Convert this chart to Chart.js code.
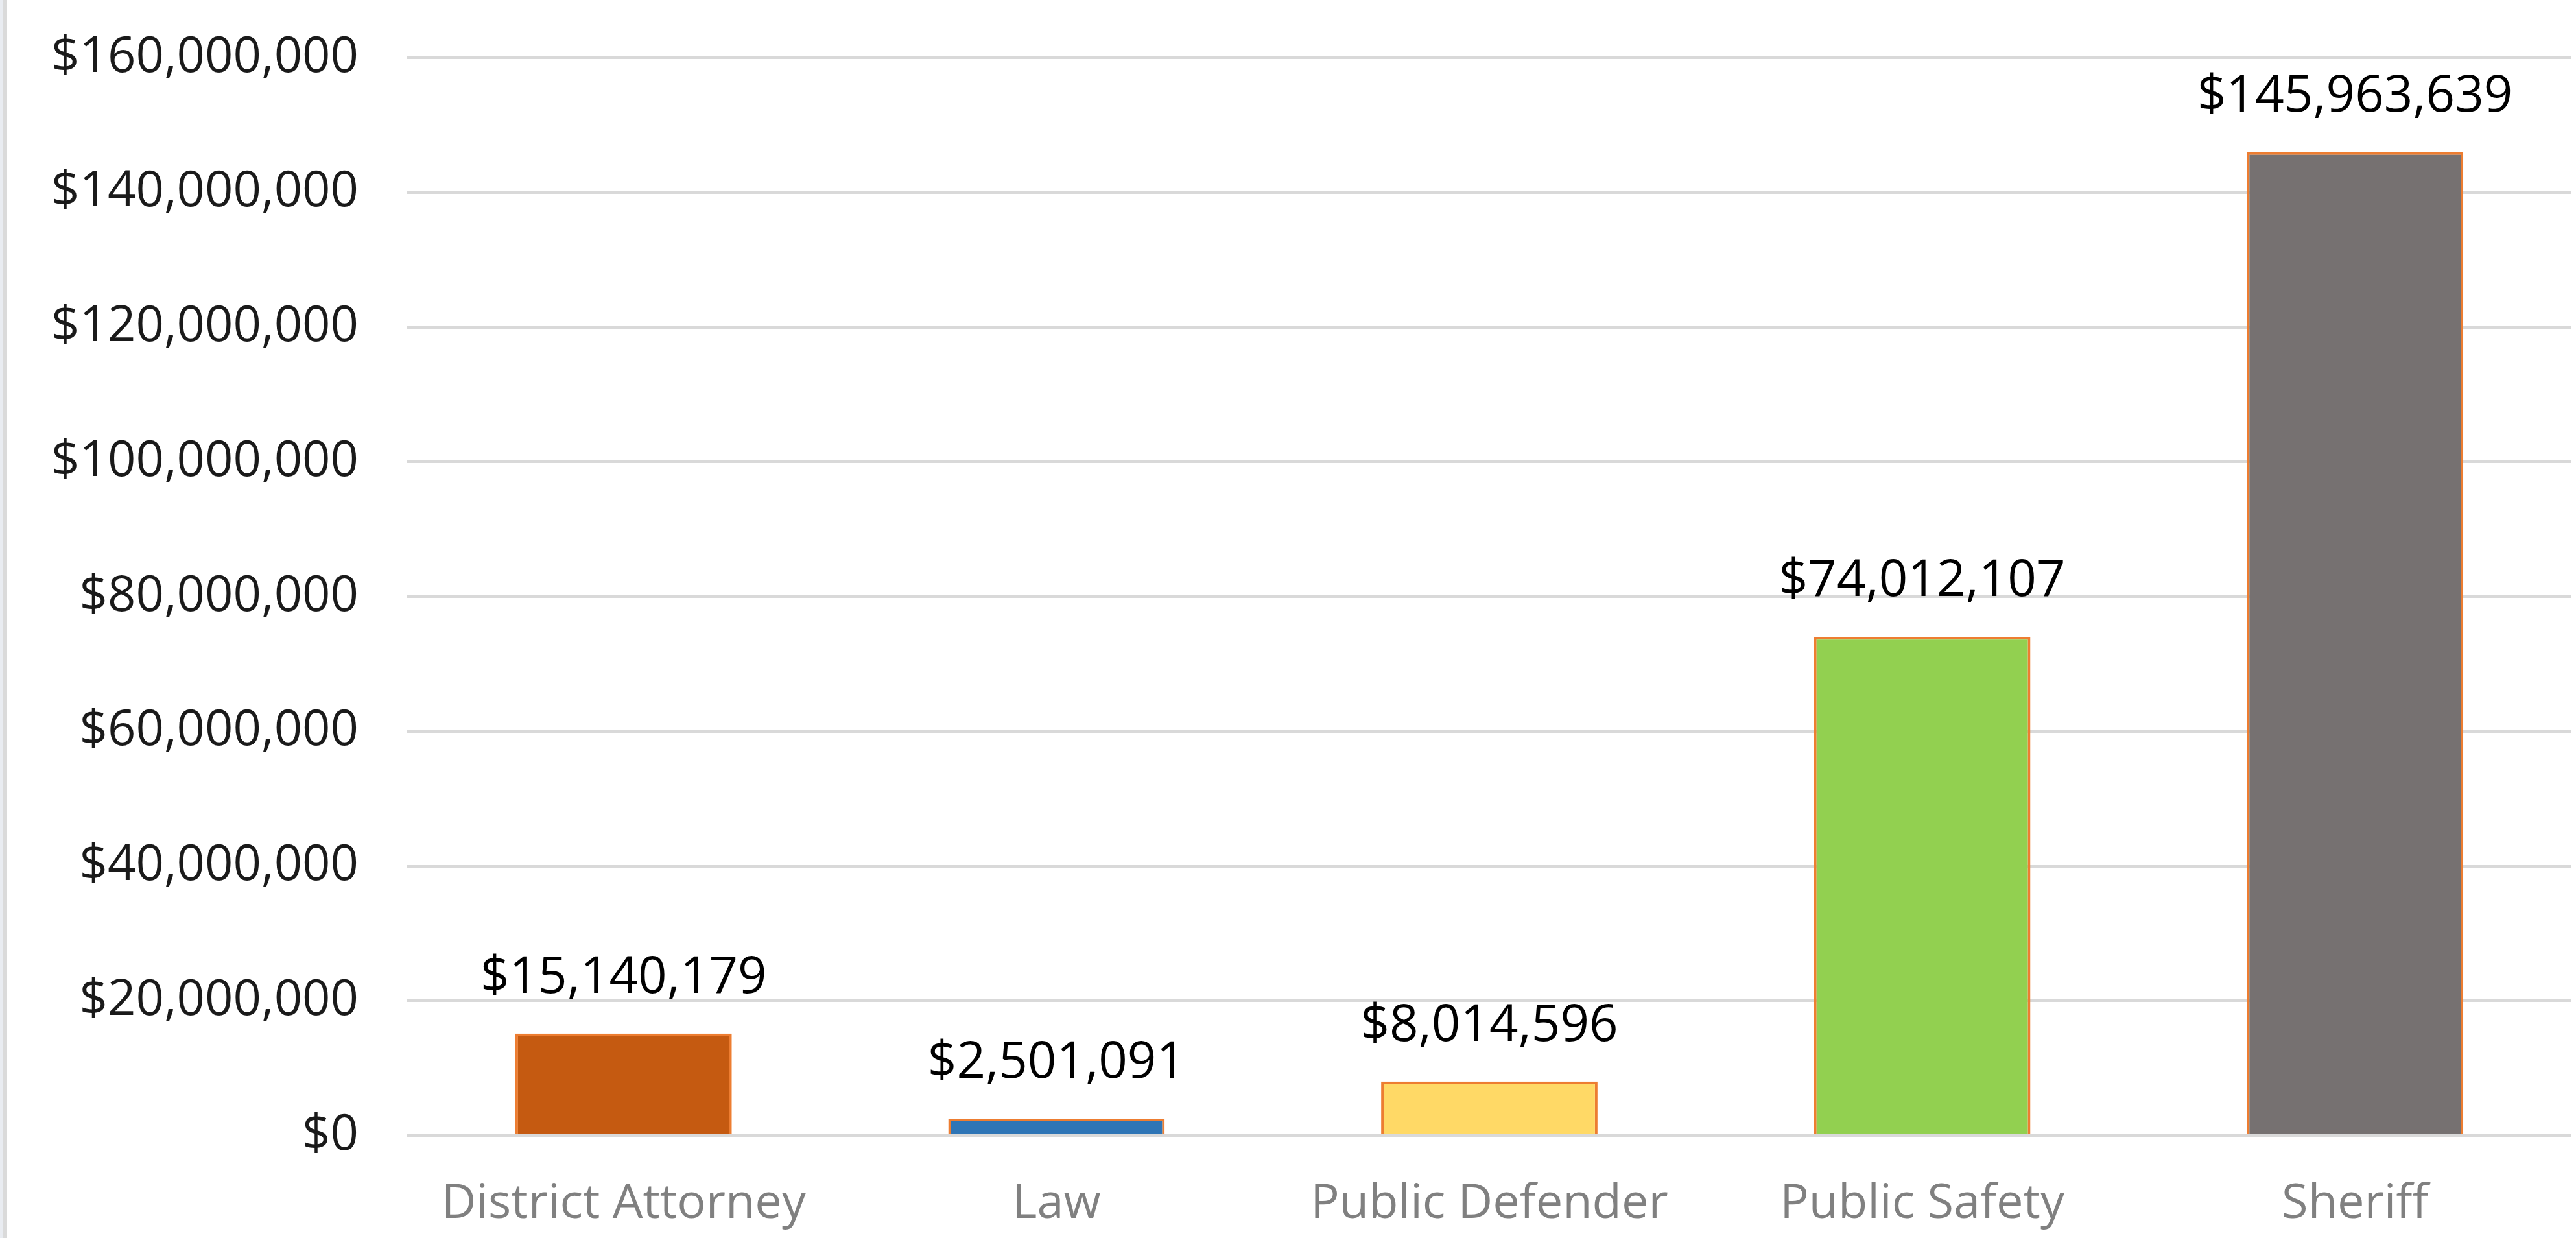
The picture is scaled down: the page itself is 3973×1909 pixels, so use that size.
<!DOCTYPE html>
<html>
<head>
<meta charset="utf-8">
<script src="https://cdn.jsdelivr.net/npm/chart.js@4.4.1/dist/chart.umd.min.js"></script>
<style>
  html, body { margin: 0; padding: 0; background: #ffffff; overflow: hidden; }
  .edge { border-left: 4px solid #e9ecf1; }
  .wrap { border-left: 7px solid #dadada; width: 3962px; height: 1909px; }
</style>
</head>
<body>
<div class="edge"><div class="wrap"><canvas id="dept-budget" width="3962" height="1909"></canvas></div></div>

<script>

/* BAR: BUDGET BY DEPARTMENT */

const labelarray_dept = ['District Attorney', 'Law', 'Public Defender', 'Public Safety', 'Sheriff'];
const datapointarray_budget = [15140179, 2501091, 8014596, 74012107, 145963639];
const colorarray_dept = ['#C55A11', '#2E75B6', '#FFD966', '#92D050', '#767171'];

const money = function(v) {
    return '$' + Number(v).toLocaleString('en-US');
};

// value labels above each bar
const barValueLabels = {
    id: 'barValueLabels',
    afterDatasetsDraw(chart) {
        const c = chart.ctx;
        const meta = chart.getDatasetMeta(0);
        c.save();
        c.font = '78px "Open Sans"';
        c.fillStyle = '#000000';
        c.textAlign = 'center';
        c.textBaseline = 'alphabetic';
        meta.data.forEach(function(bar, i) {
            c.fillText(money(datapointarray_budget[i]), bar.x, bar.y - 63);
        });
        c.restore();
    }
};

const ctx_budget = document.getElementById('dept-budget').getContext('2d');
const chart_budget = new Chart(ctx_budget, {
    type: 'bar',
    data: {
        labels: labelarray_dept,
        datasets: [{
            label: 'Budget',
            data: datapointarray_budget,
            backgroundColor: colorarray_dept,
            borderColor: '#ED7D31',
            borderWidth: 4,
            barPercentage: 0.5,
            categoryPercentage: 1.0
        }]
    },
    plugins: [barValueLabels],
    options: {
        responsive: false,
        animation: false,
        layout: {
            padding: { left: 0, right: 7, top: 89, bottom: 0 }
        },
        plugins: {
            legend: { display: false },
            tooltip: { enabled: false }
        },
        scales: {
            x: {
                grid: { display: false, drawTicks: false },
                border: { display: false },
                afterFit: function(scale) { scale.height = 158; },
                ticks: {
                    color: '#808080',
                    padding: 62,
                    font: { family: '"Open Sans"', size: 74 }
                }
            },
            y: {
                min: 0,
                max: 160000000,
                grid: {
                    color: '#d9d9d9',
                    lineWidth: 4,
                    drawTicks: false
                },
                border: { display: false },
                afterFit: function(scale) {
                    scale.width = 617;
                    scale.paddingTop = 0;
                    scale.paddingBottom = 0;
                },
                ticks: {
                    stepSize: 20000000,
                    color: '#1a1a1a',
                    padding: 75,
                    font: { family: '"Open Sans"', size: 76 },
                    callback: function(value) { return money(value); }
                }
            }
        }
    }
});

</script>
</body>
</html>
